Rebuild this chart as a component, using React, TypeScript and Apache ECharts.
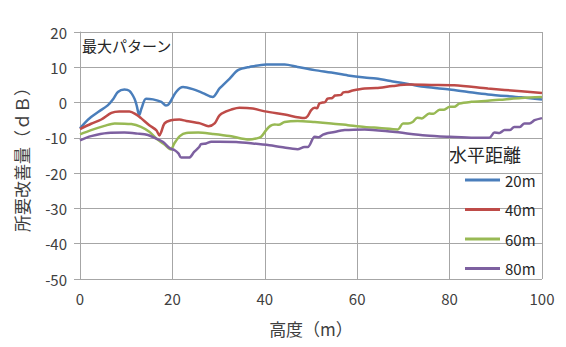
import React, { useEffect, useRef } from "react";
import * as echarts from "echarts";

const xTicks = [0, 20, 40, 60, 80, 100];
const yTicks = [-50, -40, -30, -20, -10, 0, 10, 20];
const seriesNames = ["20m", "40m", "60m", "80m"];
const seriesColors = ["#4A7EBB", "#BE4B48", "#98B954", "#7D60A0"];

const blue20m: [number, number][] = [
  [0, -7.3], [1, -5.8], [2.4, -4.1], [4, -2.6], [6, -0.8], [7.2, 1], [8.2, 3], [9.6, 3.7],
  [10.7, 3.3], [11.8, 1.1], [12.3, -1], [12.8, -3.6], [13.3, -1.7], [14.3, 1.1], [15.8, 0.9],
  [17.6, 0.2], [18.6, -0.8], [19.2, -0.5], [20.8, 3], [22.3, 4.4], [24.4, 3.8], [26.6, 2.7],
  [28.7, 1.6], [30.2, 4], [32.4, 6.8], [34.2, 9.2], [36.7, 10.1], [40.3, 10.8], [44.3, 10.8],
  [47.1, 10.1], [50.8, 9.2], [54.4, 8.5], [58, 7.7], [61.6, 7.1], [64.1, 6.8], [67.7, 6],
  [71.3, 5.2], [74.9, 4.4], [80, 3.7], [84, 3], [88.3, 2.3], [95.5, 1.5], [100, 0.9],
];

const red40m: [number, number][] = [
  [0, -7.5], [2.4, -6], [4.6, -4.8], [6.8, -2.9], [8.5, -2.5], [10.7, -2.5], [12.2, -3.4],
  [13.2, -4.4], [15, -6.4], [16.5, -7.8], [17.2, -9.3], [17.6, -8.3], [18.3, -5.9], [19.7, -5],
  [21.5, -4.8], [23, -5.2], [26, -5.9], [27.8, -6.7], [29.2, -5.8], [30.2, -3.6], [31.5, -2.6],
  [32.7, -2], [34.5, -1.5], [37.4, -1.7], [40, -2.5], [44.3, -3.4], [48.6, -4.4], [49.3, -3.8],
  [50, -2.2], [50.8, -1.5], [51.3, -1.6], [51.8, -0.3], [52.5, 0], [53, 0.1], [53.6, 1.1],
  [54.6, 1.3], [55.2, 2], [56.5, 2.2], [57, 2.9], [58, 3], [59, 3.4], [61.6, 4], [64.1, 4.1],
  [67.7, 4.7], [71.3, 5.1], [76, 5], [81, 4.9], [88.3, 4], [95.5, 3.2], [100, 2.7],
];

const green60m: [number, number][] = [
  [0, -9], [2.4, -7.8], [5.3, -6.6], [7.5, -5.9], [11.1, -6.1], [13.2, -6.9], [15, -8.3],
  [16.8, -10.5], [18.3, -11.9], [19.7, -13.3], [20.4, -11.6], [21.6, -9.5], [23, -8.6],
  [25.6, -8.5], [28.7, -8.9], [32.4, -9.5], [36.7, -10.5], [38.1, -10.2], [39.2, -9.7],
  [40.3, -7.8], [41.2, -6.6], [42.1, -6.2], [43, -6.3], [44.3, -5.5], [47.1, -5.2], [50.8, -5.5],
  [54.4, -5.9], [58, -6.4], [61.6, -6.9], [64.8, -7.2], [68.8, -7.6], [69.9, -5.9], [71, -5.9],
  [72, -5.5], [73, -4.3], [74, -4.5], [75.6, -3.1], [76.5, -3.2], [77.8, -2], [78.8, -2],
  [80, -1.2], [81, -1.2], [82.1, -0.3], [84.7, 0.2], [88.3, 0.5], [91.9, 0.9], [95.5, 1.3],
  [100, 1.6],
];

const purple80m: [number, number][] = [
  [0, -10.7], [2.4, -9.5], [6, -8.6], [9.6, -8.5], [12.5, -8.8], [14.7, -9.2], [16.5, -10.2],
  [18, -11.2], [19.4, -12.9], [20.5, -13.5], [21.3, -14.4], [21.9, -15.6], [23.6, -15.6],
  [24.7, -14], [25.8, -12.6], [26.2, -11.8], [27.3, -11.6], [28.4, -11.1], [30.2, -11.1],
  [33.8, -11.2], [37.4, -11.6], [41, -12.1], [43.5, -12.6], [47.1, -13.2], [48.6, -12.6],
  [49.3, -12.6], [50.8, -9.7], [51.7, -9.8], [52.6, -9.1], [53.5, -8.7], [54.4, -8.5],
  [57.3, -7.8], [61.6, -7.6], [67.7, -8.3], [74.9, -9.3], [80, -9.7], [85.4, -10], [88.6, -10],
  [89.7, -8.5], [90.8, -8.6], [91.9, -7.8], [93, -7.8], [94, -6.9], [95.2, -6.9], [96.2, -5.9],
  [97.3, -5.9], [98.4, -5], [100, -4.4],
];

const allSeries = [blue20m, red40m, green60m, purple80m];

const FONT = "'Noto Sans CJK JP', 'Noto Sans', sans-serif";

export default function App() {
  const ref = useRef<HTMLDivElement>(null);
  useEffect(() => {
    if (!ref.current) return;
    const chart = echarts.init(ref.current, null, { renderer: "svg" });
    chart.setOption({
      animation: false,
      backgroundColor: "#ffffff",
      textStyle: { fontFamily: FONT },
      grid: { left: 80, right: 24, top: 32, bottom: 68 },
      xAxis: {
        type: "value",
        min: xTicks[0],
        max: xTicks[xTicks.length - 1],
        interval: 20,
        name: "高度（m）",
        nameLocation: "middle",
        nameGap: 41,
        nameTextStyle: { fontSize: 17, color: "#404040", fontFamily: FONT },
        axisLine: { show: true, lineStyle: { color: "#A6A6A6", width: 1 } },
        axisTick: { show: true, length: 5, lineStyle: { color: "#A6A6A6" } },
        axisLabel: { fontSize: 15, color: "#404040", margin: 12, fontFamily: FONT },
        splitLine: { show: true, lineStyle: { color: "#A6A6A6", width: 1 } },
      },
      yAxis: {
        type: "value",
        min: yTicks[0],
        max: yTicks[yTicks.length - 1],
        interval: 10,
        name: "所要改善量（ｄＢ）",
        nameLocation: "middle",
        nameGap: 50,
        nameRotate: 90,
        nameTextStyle: { fontSize: 17, color: "#404040", fontFamily: FONT },
        axisLine: { show: true, lineStyle: { color: "#A6A6A6", width: 1 } },
        axisTick: { show: true, length: 6, lineStyle: { color: "#A6A6A6" } },
        axisLabel: { fontSize: 15, color: "#404040", margin: 13, fontFamily: FONT },
        splitLine: { show: true, lineStyle: { color: "#A6A6A6", width: 1 } },
      },
      legend: {
        orient: "vertical",
        left: 465,
        top: 172,
        padding: 0,
        itemWidth: 35,
        itemHeight: 3,
        itemGap: 13.5,
        icon: "rect",
        data: seriesNames,
        textStyle: { fontSize: 15, color: "#262626", fontFamily: FONT, lineHeight: 16 },
      },
      graphic: [
        {
          type: "text",
          left: 82,
          top: 38,
          style: { text: "最大パターン", fontSize: 15, fill: "#262626", fontFamily: FONT },
        },
        {
          type: "text",
          left: 449,
          top: 145,
          style: { text: "水平距離", fontSize: 18, fill: "#262626", fontFamily: FONT },
        },
      ],
      series: allSeries.map((d, i) => ({
        name: seriesNames[i],
        type: "line",
        data: d,
        symbol: "none",
        smooth: 0.3,
        lineStyle: { color: seriesColors[i], width: 2.5 },
        itemStyle: { color: seriesColors[i] },
      })),
    });
    return () => chart.dispose();
  }, []);
  return (
    <div
      ref={ref}
      style={{ position: "absolute", left: 0, top: 0, width: 566, height: 347 }}
    />
  );
}
